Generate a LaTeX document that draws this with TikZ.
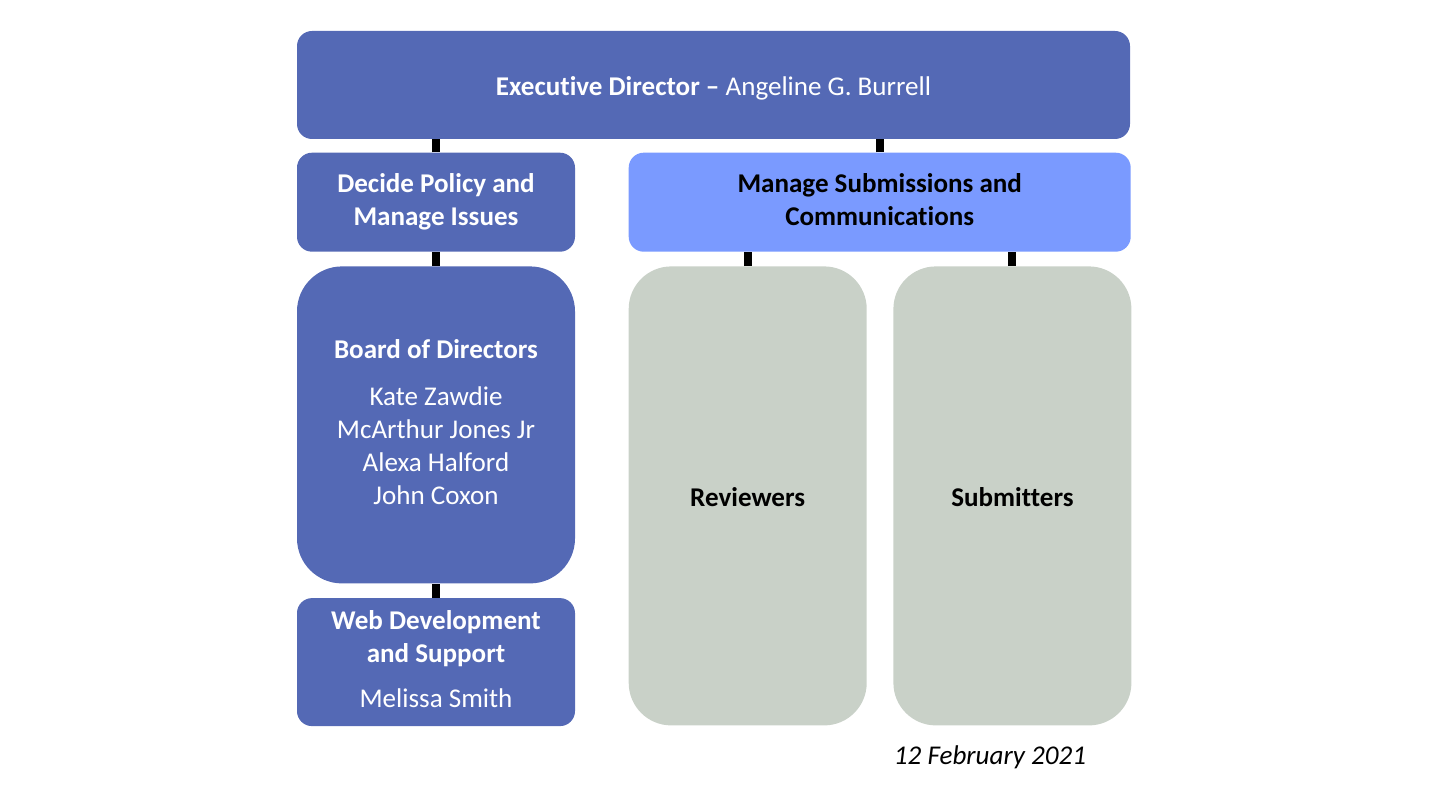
\documentclass[tikz,border=0pt]{standalone}
\usepackage{fontspec}
\setmainfont{Carlito}[Ligatures=NoCommon]
\usepackage{tikz}
\usetikzlibrary{positioning}

\definecolor{orgblue}{HTML}{5469B5}
\definecolor{orglight}{HTML}{7A9AFF}
\definecolor{orggray}{HTML}{C9D1C8}

\begin{document}
\begin{tikzpicture}[node distance=0.27cm,
			box/.style={rectangle, rounded corners=0.3cm, align=center, inner sep=0pt,
				font=\fontsize{15.4}{18.8}\selectfont,
				execute at begin node={\rule{0pt}{15.5pt}},
				execute at end node={\rule[-3.3pt]{0pt}{3.3pt}}},
			bluebox/.style={box, fill=orgblue, text=white},
			lightbox/.style={box, fill=orglight, text=black, font=\fontsize{15.4}{18.8}\selectfont\bfseries},
			graybox/.style={box, fill=orggray, text=black, rounded corners=0.85cm, font=\fontsize{15.4}{18.8}\selectfont\bfseries},
			link/.style={line width=4.6pt, black}]
			
			\useasboundingbox (0,0) rectangle (28.8,-16.2);
			
			\node[bluebox, minimum width=16.66cm, minimum height=2.16cm] (exec) at (14.27,-1.7) {\textbf{Executive Director --} Angeline G. Burrell};
			\node[bluebox, minimum width=5.56cm, minimum height=1.98cm, below right=0.26cm and 0cm of exec.south west] (decide) {\textbf{Decide Policy and}\\\textbf{Manage Issues}};
			\node[lightbox, minimum width=10.04cm, minimum height=1.98cm, right=1.06cm of decide] (manage) {Manage Submissions and\\Communications};
			\node[bluebox, rounded corners=0.9cm, minimum width=5.56cm, minimum height=6.34cm, below=0.28cm of decide] (board) {\textbf{Board of Directors}\\[8.3pt]Kate Zawdie\\McArthur Jones Jr\\Alexa Halford\\John Coxon};
			\node[bluebox, minimum width=5.56cm, minimum height=2.56cm, below=0.28cm of board] (web) {\textbf{Web Development}\\\textbf{and Support}\\[6.8pt]Melissa Smith};
			\node[graybox, minimum width=4.76cm, minimum height=9.18cm, below right=0.28cm and 0cm of manage.south west] (reviewers) {Reviewers};
			\node[graybox, minimum width=4.76cm, minimum height=9.18cm, right=0.52cm of reviewers] (submitters) {Submitters};
			\node[font=\fontsize{15.4}{18.8}\selectfont\itshape] (date) at (19.8,-15.14) {12 February 2021};
			
			\draw[link] (decide.north) -- (decide.north |- exec.south);
			\draw[link] (manage.north) -- (manage.north |- exec.south);
			\draw[link] (board.north) -- (decide.south);
			\draw[link] (web.north) -- (board.south);
			\draw[link] (reviewers.north) -- (reviewers.north |- manage.south);
			\draw[link] (submitters.north) -- (submitters.north |- manage.south);
			
		\end{tikzpicture}
\end{document}
